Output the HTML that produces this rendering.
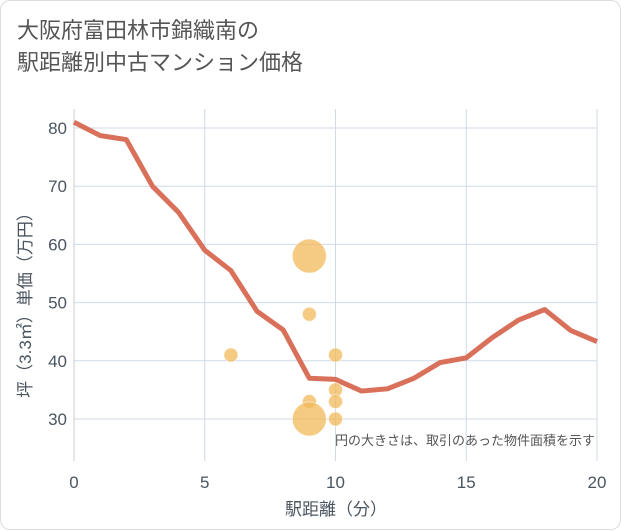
<!DOCTYPE html>
<html><head><meta charset="utf-8"><style>
body{margin:0;background:#fff;font-family:"Liberation Sans","Noto Sans CJK JP",sans-serif;}
#card{position:absolute;left:0;top:0;width:619px;height:528px;border:1px solid #ddd;border-radius:10px;background:#fff;}
#title{position:absolute;left:16px;top:14px;font-size:22px;line-height:32px;color:#555;}
</style></head><body>
<div id="card">
<div id="title">大阪府富田林市錦織南の<br>駅距離別中古マンション価格</div>
<svg id="chart" width="621" height="530" style="position:absolute;left:0;top:0"></svg>
</div>
<script>
const lineX=[0,1,2,3,4,5,6,7,8,9,10,11,12,13,14,15,16,17,18,19,20];
const lineY=[81,78.7,78,70,65.5,59,55.5,48.5,45.3,37,36.8,34.8,35.2,37,39.7,40.5,44,47,48.8,45.2,43.3];
const bubX=[6,9,9,9,9,10,10,10,10];
const bubY=[41,58,48,33,30,41,35,33,30];
const bubR=[7,17,7,7,17,7,7,7,7];
const xTicks=[0,5,10,15,20];
const yTicks=[30,40,50,60,70,80];
const NS="http://www.w3.org/2000/svg";
const svg=document.getElementById('chart');
const L=73,R=596,T=108,B=460;
const sx=v=>L+(v-0)/20*(R-L);
const sy=v=>418-(v-30)*5.82;
function mk(t,a){const e=document.createElementNS(NS,t);for(const k in a)e.setAttribute(k,a[k]);svg.appendChild(e);return e;}
for(const t of xTicks){
 const g=mk('line',{x1:sx(t),x2:sx(t),y1:T,y2:B,stroke:'#cfdbe6','stroke-width':1});
 
 
 const tx=mk('text',{x:sx(t),y:487,'text-anchor':'middle','font-size':17,fill:'#4a5560'});tx.textContent=t;
 
 
}
for(const t of yTicks){
 const g=mk('line',{x1:L,x2:R,y1:sy(t),y2:sy(t),stroke:'#cfdbe6','stroke-width':1});
 
 
 const tx=mk('text',{x:66,y:sy(t)+6,'text-anchor':'end','font-size':17,fill:'#4a5560'});tx.textContent=t;
 
 
}
const ax=mk('line',{x1:L,x2:L,y1:T,y2:B,stroke:'#ccc'});


const pl=mk('polyline',{points:lineX.map((x,i)=>sx(x)+','+sy(lineY[i])).join(' '),fill:'none',stroke:'#d9705a','stroke-width':5,'stroke-linejoin':'round'});


for(let i=0;i<bubX.length;i++){
 const c=mk('circle',{cx:sx(bubX[i]),cy:sy(bubY[i]),r:bubR[i],fill:'rgba(242,184,90,0.75)',stroke:'rgba(255,255,255,0.5)'});
 
 
}
const xt=mk('text',{x:335,y:514,'text-anchor':'middle','font-size':17,fill:'#4a5560'});xt.textContent='駅距離（分）';


const yt=mk('text',{x:30,y:300,'text-anchor':'middle','font-size':17,fill:'#4a5560',transform:'rotate(-90 30 300)'});yt.textContent='坪（3.3㎡）単価（万円）';


const nt=mk('text',{x:594,y:444,'text-anchor':'end','font-size':13,fill:'#555'});nt.textContent='円の大きさは、取引のあった物件面積を示す';


</script>
</body></html>
